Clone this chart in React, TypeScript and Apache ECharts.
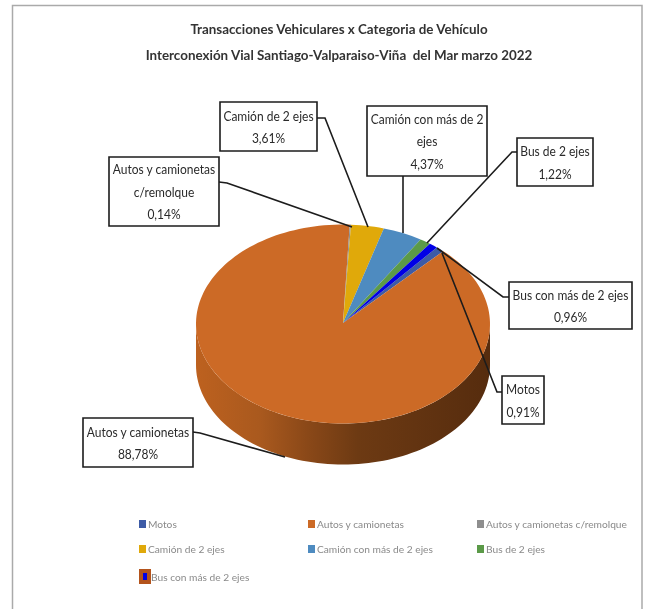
import React, { useEffect, useRef } from "react";
import * as echarts from "echarts";

const titleLines = [
  "Transacciones Vehiculares x Categoria de Vehículo",
  "Interconexión Vial Santiago-Valparaiso-Viña  del Mar marzo 2022",
];
const categories = [
  "Motos",
  "Autos y camionetas",
  "Autos y camionetas c/remolque",
  "Camión de 2 ejes",
  "Camión con más de 2 ejes",
  "Bus de 2 ejes",
  "Bus con más de 2 ejes",
];
const values = [0.91, 88.78, 0.14, 3.61, 4.37, 1.22, 0.96];
const colors = ["#3d5ba6", "#cc6a26", "#8e8e8e", "#e0a90a", "#4e8bc0", "#5b9a48", "#0000e6"];
const labelNames = [
  "Motos",
  "Autos y camionetas",
  "Autos y camionetas\nc/remolque",
  "Camión de 2 ejes",
  "Camión con más de 2\nejes",
  "Bus de 2 ejes",
  "Bus con más de 2 ejes",
];

const FONT = "Lato";
const PIE = { cx: 343, cy: 324, rx: 147, ry: 99.5, depth: 41, start: 39.7 };

// box: x, y, w, h; leader: polyline
const callouts = [
  { box: [502, 376, 42, 48], leader: [[502, 392], [497, 392], [442, 253]] },
  { box: [83, 418, 110, 49], leader: [[193, 432], [200, 433], [285, 457]] },
  { box: [109, 157, 110, 69], leader: [[219, 182], [227, 183], [352, 227]] },
  { box: [220, 102, 97, 49], leader: [[317, 118], [325, 118], [368, 227]] },
  { box: [367, 106, 120, 70], leader: [[403, 176], [403, 233]] },
  { box: [517, 138, 76, 48], leader: [[517, 152], [512, 152], [427, 243]] },
  { box: [509, 282, 123, 47], leader: [[509, 297], [503, 297], [437, 248]] },
];

const legendPos = [
  { left: 139, top: 519 },
  { left: 308, top: 519 },
  { left: 477, top: 519 },
  { left: 139, top: 544 },
  { left: 308, top: 544 },
  { left: 477, top: 544 },
  { left: 139, top: 569 },
];

const pt = (deg: number, dy = 0) => {
  const a = (deg * Math.PI) / 180;
  return [PIE.cx + PIE.rx * Math.sin(a), PIE.cy - PIE.ry * Math.cos(a) + dy];
};
const arc = (a0: number, a1: number, dy = 0) => {
  const n = Math.max(2, Math.ceil((a1 - a0) / 2));
  const out: number[][] = [];
  for (let i = 0; i <= n; i++) out.push(pt(a0 + ((a1 - a0) * i) / n, dy));
  return out;
};
const total = values.reduce((s, v) => s + v, 0);

function makeRender(idx: number) {
  return (_p: any, api: any) => {
    const before = values.slice(0, idx).reduce((s, v) => s + v, 0);
    const a0 = PIE.start + (before / total) * 360;
    const a1 = a0 + (api.value(0) / total) * 360;
    const children: any[] = [];
    // side wall: visible front half of the disc
    for (const k of [0, 1]) {
      const lo = Math.max(a0, 90 + 360 * k);
      const hi = Math.min(a1, 270 + 360 * k);
      if (hi > lo) {
        children.push({
          type: "polygon",
          z2: 0,
          shape: { points: [...arc(lo, hi), ...arc(lo, hi, PIE.depth).reverse()] },
          style: {
            fill: new echarts.graphic.LinearGradient(
              PIE.cx - PIE.rx, 0, PIE.cx + PIE.rx, 0,
              [
                { offset: 0, color: "#bd611f" },
                { offset: 0.22, color: "#a9591e" },
                { offset: 0.38, color: "#8a4818" },
                { offset: 0.55, color: "#6d3a13" },
                { offset: 1, color: "#562c0e" },
              ],
              true
            ),
          },
        });
      }
    }
    children.push({
      type: "polygon",
      z2: 1,
      shape: { points: [[PIE.cx, PIE.cy - 1], ...arc(a0, a1)] },
      style: { fill: colors[idx] },
    });
    const c = callouts[idx];
    children.push({
      type: "polyline",
      z2: 5,
      shape: { points: c.leader },
      style: { fill: "none", stroke: "#1c1c1c", lineWidth: 1.6 },
    });
    const [x, y, w, h] = c.box;
    children.push({
      type: "rect",
      z2: 6,
      shape: { x, y, width: w, height: h },
      style: { fill: "#fff", stroke: "#1c1c1c", lineWidth: 1.6 },
    });
    const pct = api.value(0).toFixed(2).replace(".", ",") + "%";
    children.push({
      type: "text",
      z2: 7,
      x: x + w / 2,
      y: y + h / 2,
      scaleX: 0.89,
      style: {
        text: labelNames[idx] + "\n" + pct,
        font: `13.5px ${FONT}`,
        fill: "#2a2a2a",
        align: "center",
        verticalAlign: "middle",
        lineHeight: 22.5,
      },
    });
    return { type: "group", children };
  };
}

export default function App() {
  const ref = useRef<HTMLDivElement>(null);
  useEffect(() => {
    const chart = echarts.init(ref.current!, undefined, { renderer: "svg" });
    chart.setOption({
      animation: false,
      backgroundColor: "#ffffff",
      title: {
        text: titleLines.join("\n"),
        left: 334,
        top: 11,
        textAlign: "center",
        textStyle: {
          fontFamily: FONT,
          fontSize: 13.4,
          fontWeight: "bold",
          color: "#333333",
          lineHeight: 26,
        },
      },
      legend: categories.map((name, i) => ({
        show: true,
        orient: "horizontal",
        left: legendPos[i].left,
        top: legendPos[i].top,
        padding: 0,
        itemGap: 0,
        itemWidth: i === 6 ? 8 : 7,
        itemHeight: i === 6 ? 11 : 8,
        selectedMode: false,
        textStyle: {
          fontFamily: FONT,
          fontSize: 10.2,
          color: "#8a8a8a",
          padding: [0, 0, 0, -3],
        },
        data: [
          i === 6
            ? {
                name,
                icon: "rect",
                itemStyle: { color: "#0000e6", borderColor: "#b4541c", borderWidth: 4 },
              }
            : { name, icon: "rect" },
        ],
      })),
      graphic: [
        {
          type: "polyline",
          silent: true,
          shape: { points: [[12.5, 609], [12.5, 5.5], [642, 5.5], [642, 609]] },
          style: { fill: "none", stroke: "#aaaaaa", lineWidth: 1.5 },
        },
      ],
      series: categories.map((name, i) => ({
        type: "custom",
        name,
        coordinateSystem: "none",
        silent: true,
        itemStyle: { color: colors[i] },
        data: [[values[i]]],
        renderItem: makeRender(i),
      })),
    });
    return () => chart.dispose();
  }, []);
  return (
    <div
      ref={ref}
      style={{ position: "fixed", left: 0, top: 0, width: 649, height: 609, filter: "blur(0.4px)" }}
    />
  );
}
